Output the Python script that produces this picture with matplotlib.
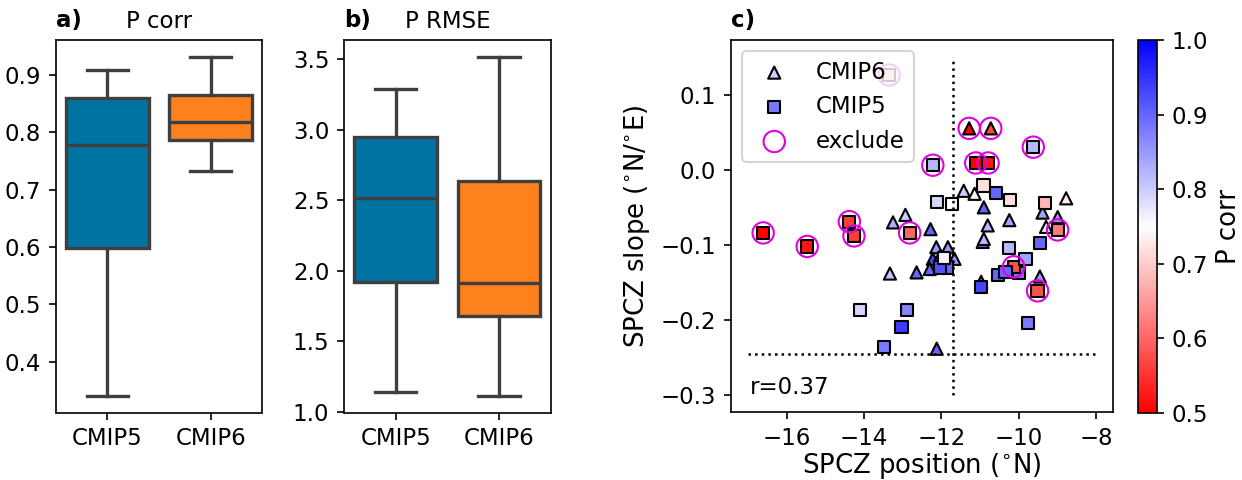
import numpy as np
import matplotlib
matplotlib.use("Agg")
import matplotlib.pyplot as plt

# ---------------- data ----------------
groups = ["CMIP5", "CMIP6"]
box_colors = ["#0173a3", "#fd821e"]

# panel a: P corr box statistics (whislo, q1, med, q3, whishi)
pcorr_whislo = [0.341, 0.733]
pcorr_q1 = [0.598, 0.786]
pcorr_med = [0.778, 0.818]
pcorr_q3 = [0.860, 0.864]
pcorr_whishi = [0.908, 0.931]

# panel b: P RMSE box statistics
rmse_whislo = [1.137, 1.115]
rmse_q1 = [1.917, 1.679]
rmse_med = [2.513, 1.914]
rmse_q3 = [2.946, 2.633]
rmse_whishi = [3.290, 3.516]

# panel c: CMIP5 models (squares)
x5 = [-10.00, -16.61, -15.47, -14.38, -14.26, -12.82, -13.35, -12.22, -11.11, -10.79,
      -9.62, -8.99, -9.51, -10.13, -10.91, -10.58, -10.22, -12.12, -11.73, -9.32,
      -10.24, -9.44, -9.82, -10.54, -10.34, -10.97, -9.75, -11.86, -12.04, -14.11,
      -12.89, -13.03, -13.48, -11.94]
y5 = [-0.137, -0.084, -0.102, -0.069, -0.088, -0.084, 0.126, 0.006, 0.009, 0.009,
      0.030, -0.080, -0.161, -0.129, -0.021, -0.031, -0.040, -0.043, -0.045, -0.044,
      -0.104, -0.097, -0.119, -0.140, -0.136, -0.156, -0.204, -0.130, -0.130, -0.187,
      -0.186, -0.209, -0.236, -0.117]
p5 = [0.88, 0.50, 0.52, 0.56, 0.56, 0.60, 0.69, 0.82, 0.50, 0.52,
      0.82, 0.62, 0.58, 0.58, 0.72, 0.90, 0.72, 0.79, 0.75, 0.68,
      0.82, 0.90, 0.84, 0.90, 0.90, 0.93, 0.88, 0.90, 0.92, 0.79,
      0.87, 0.94, 0.88, 0.76]
ex5 = [0, 1, 1, 1, 1, 1, 1, 1, 1, 1,
       1, 1, 1, 1, 0, 0, 0, 0, 0, 0,
       0, 0, 0, 0, 0, 0, 0, 0, 0, 0,
       0, 0, 0, 0]

# panel c: CMIP6 models (triangles)
x6 = [-11.42, -11.28, -10.72, -11.14, -10.90, -8.77, -9.38, -8.99, -9.29, -10.80,
      -10.24, -10.93, -10.90, -9.45, -10.97, -13.25, -12.93, -12.28, -12.13, -11.83,
      -12.22, -12.04, -11.66, -12.30, -13.33, -12.64, -12.12]
y6 = [-0.028, 0.055, 0.055, -0.032, -0.050, -0.038, -0.057, -0.063, -0.076, -0.074,
      -0.067, -0.096, -0.092, -0.142, -0.149, -0.070, -0.060, -0.079, -0.103, -0.103,
      -0.1185, -0.116, -0.1185, -0.132, -0.138, -0.1365, -0.238]
p6 = [0.80, 0.50, 0.57, 0.76, 0.90, 0.73, 0.84, 0.85, 0.77, 0.82,
      0.84, 0.90, 0.82, 0.85, 0.90, 0.83, 0.80, 0.90, 0.85, 0.85,
      0.93, 0.88, 0.85, 0.90, 0.81, 0.90, 0.90]
ex6 = [0, 1, 1, 0, 0, 0, 0, 0, 0, 0,
       0, 0, 0, 0, 0, 0, 0, 0, 0, 0,
       0, 0, 0, 0, 0, 0, 0]

obs_position = -11.7
obs_slope = -0.245
r_text = "r=0.37"

# ---------------- figure ----------------
W, H = 1242, 480
fig = plt.figure(figsize=(W / 150, H / 150), dpi=150)

def px_axes(left, top, right, bottom):
    return fig.add_axes([left / W, 1 - bottom / H, (right - left) / W, (bottom - top) / H])

ax_a = px_axes(55.7, 40, 262.3, 412.5)
ax_b = px_axes(344, 40, 550.7, 412.5)
ax_c = px_axes(730.7, 40, 1113.3, 412.3)
cax = px_axes(1137.7, 40, 1156.7, 413)

tick_fs = 11
line_gray = "#3f3f3f"

def draw_box(ax, lo, q1, med, q3, hi, title, tag):
    stats = []
    for i in range(len(groups)):
        stats.append(dict(whislo=lo[i], q1=q1[i], med=med[i], q3=q3[i],
                          whishi=hi[i], fliers=[], label=groups[i]))
    bp = ax.bxp(stats, positions=range(len(groups)), widths=0.8, patch_artist=True,
                showfliers=False,
                boxprops=dict(edgecolor=line_gray, linewidth=1.6),
                whiskerprops=dict(color=line_gray, linewidth=1.6),
                capprops=dict(color=line_gray, linewidth=1.6),
                medianprops=dict(color=line_gray, linewidth=1.6))
    for patch, col in zip(bp["boxes"], box_colors):
        patch.set_facecolor(col)
    ax.set_xlim(-0.5, 1.5)
    ax.tick_params(labelsize=tick_fs)
    ax.set_title(title, fontsize=11)
    ax.set_title(tag, loc="left", fontweight="bold", fontsize=11)

draw_box(ax_a, pcorr_whislo, pcorr_q1, pcorr_med, pcorr_q3, pcorr_whishi, "P corr", "a)")
ax_a.set_yticks([0.4, 0.5, 0.6, 0.7, 0.8, 0.9])
draw_box(ax_b, rmse_whislo, rmse_q1, rmse_med, rmse_q3, rmse_whishi, "P RMSE", "b)")
ax_b.set_yticks([1.0, 1.5, 2.0, 2.5, 3.0, 3.5])

# panel c
x5a, y5a, p5a, ex5a = map(np.asarray, (x5, y5, p5, ex5))
x6a, y6a, p6a, ex6a = map(np.asarray, (x6, y6, p6, ex6))
kw = dict(cmap="bwr_r", vmin=0.5, vmax=1.0, s=34, edgecolors="k", linewidths=1.0)
ax_c.scatter(x6a, y6a, c=p6a, marker="^", label="CMIP6", **kw)
sc = ax_c.scatter(x5a, y5a, c=p5a, marker="s", label="CMIP5", **kw)
xe = np.concatenate([x6a[ex6a == 1], x5a[ex5a == 1]])
ye = np.concatenate([y6a[ex6a == 1], y5a[ex5a == 1]])
ax_c.scatter(xe, ye, s=105, facecolors="none", edgecolors="#e000e0", linewidths=1.0,
             label="exclude")
ax_c.plot([-17, -8], [obs_slope, obs_slope], "k:", lw=1.2)
ax_c.plot([obs_position, obs_position], [-0.3, 0.15], "k:", lw=1.2)
ax_c.set_xlim(-17.45, -7.55)
ax_c.set_ylim(-0.3225, 0.1725)
ax_c.set_xticks([-16, -14, -12, -10, -8])
ax_c.set_yticks([-0.3, -0.2, -0.1, 0.0, 0.1])
ax_c.tick_params(labelsize=tick_fs)
ax_c.set_xlabel(r"SPCZ position ($^{\circ}$N)", fontsize=12.5, labelpad=0.5)
ax_c.set_ylabel(r"SPCZ slope ($^{\circ}$N/$^{\circ}$E)", fontsize=12.5)
ax_c.set_title("c)", loc="left", fontweight="bold", fontsize=11)
ax_c.text(0.05, 0.05, r_text, transform=ax_c.transAxes, fontsize=11)
ax_c.legend(loc="upper left", fontsize=11)

cb = fig.colorbar(sc, cax=cax)
cb.set_ticks([0.5, 0.6, 0.7, 0.8, 0.9, 1.0])
cb.ax.tick_params(labelsize=tick_fs)
cb.set_label("P corr", fontsize=12.5)

fig.savefig("out.png", dpi=150)
